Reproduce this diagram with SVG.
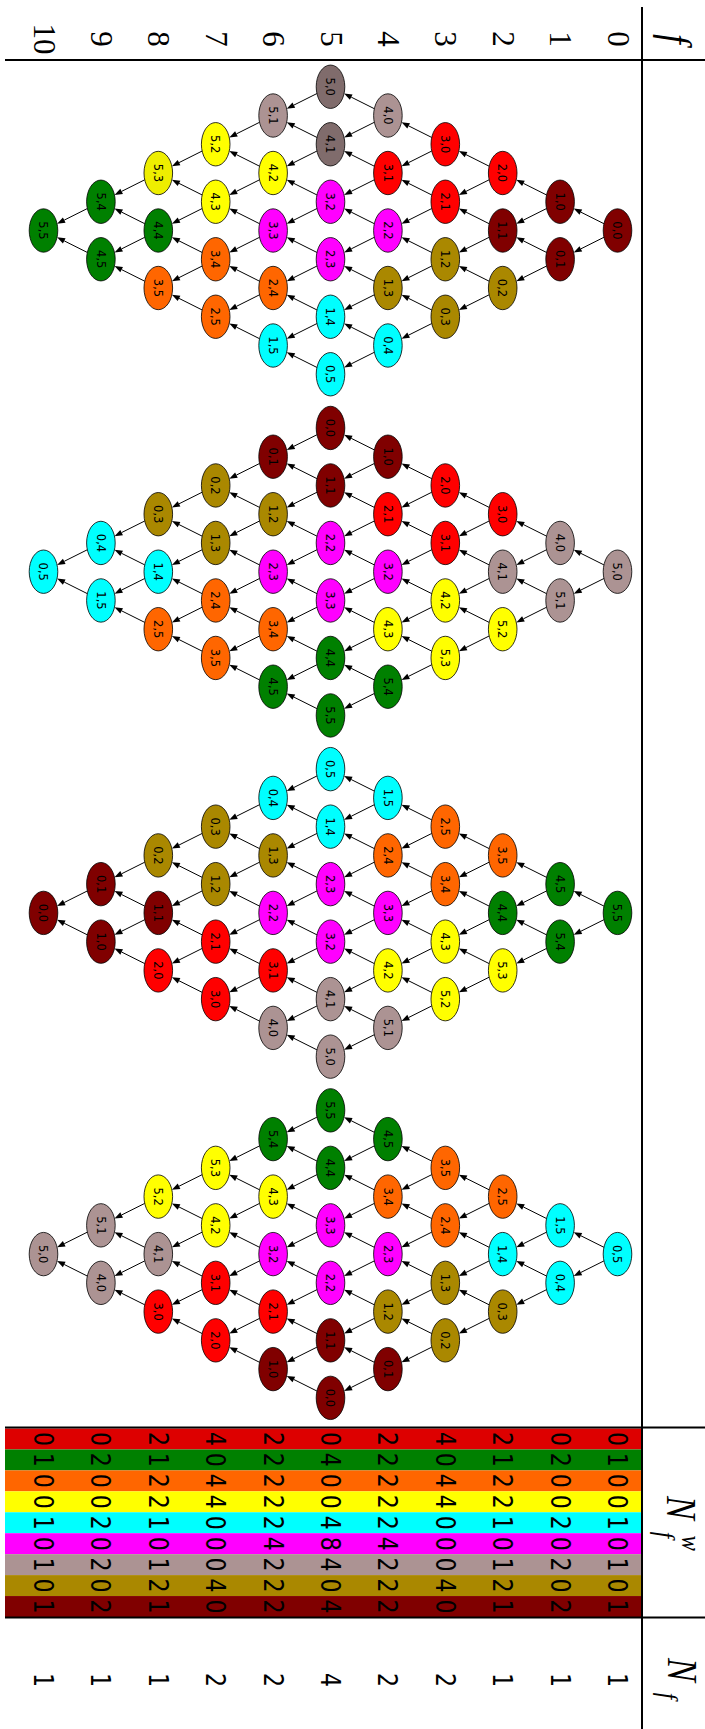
<svg xmlns="http://www.w3.org/2000/svg" width="705" height="1729" viewBox="0 0 705 1729">
<style>
.ln{stroke:#000;stroke-width:2;fill:none}
.ed line{stroke:#000;stroke-width:1;marker-end:url(#ah)}
.nd ellipse{stroke:#000;stroke-width:0.8}
.nd text{font-family:"DejaVu Sans",sans-serif;font-size:11.5px;text-anchor:middle;fill:#000}
.mr{fill:#800000}.rd{fill:#ff0000}.ol{fill:#aa8800}.gy{fill:#ac9393}.gyd{fill:#806c6c}.ye{fill:#ffff00}.yed{fill:#eeee00}.mg{fill:#ff00ff}.cy{fill:#00ffff}.or{fill:#ff6600}.gr{fill:#008000}.rdt{fill:#dd0000}
.td{font-family:"DejaVu Sans",sans-serif;font-size:27px;text-anchor:middle;fill:#000}
.hd{font-family:"Liberation Serif",serif;font-size:31px;text-anchor:middle;fill:#000}
.mi{font-family:"Liberation Serif",serif;font-style:italic;fill:#000}
.big{font-size:42px}
.sub{font-size:27px}
</style>
<defs>
<marker id="ah" markerUnits="userSpaceOnUse" markerWidth="8" markerHeight="6" refX="0" refY="3" orient="auto" overflow="visible"><path d="M0,0 L8,3 L0,6 z" fill="#000"/></marker>
</defs>
<rect width="705" height="1729" fill="#fff"/>
<g id="figure" transform="translate(705,0) rotate(90)">
<g id="table">
<rect class="rdt" x="1428.5" y="63" width="20.95" height="637"/>
<rect class="gr" x="1449.44" y="63" width="20.95" height="637"/>
<rect class="or" x="1470.38" y="63" width="20.95" height="637"/>
<rect class="ye" x="1491.33" y="63" width="20.95" height="637"/>
<rect class="cy" x="1512.27" y="63" width="20.95" height="637"/>
<rect class="mg" x="1533.21" y="63" width="20.95" height="637"/>
<rect class="gy" x="1554.15" y="63" width="20.95" height="637"/>
<rect class="ol" x="1575.09" y="63" width="20.95" height="637"/>
<rect class="mr" x="1596.04" y="63" width="20.96" height="637"/>
<line class="ln" x1="60" y1="0" x2="60" y2="700"/>
<line class="ln" x1="7" y1="63" x2="1729" y2="63"/>
<line class="ln" x1="1427.5" y1="0" x2="1427.5" y2="700"/>
<line class="ln" x1="1617.5" y1="0" x2="1617.5" y2="700"/>
</g>
<g id="headers">
<g class="hd">
<text x="39" y="97.5">0</text><text x="39" y="154.9">1</text><text x="39" y="212.3">2</text><text x="39" y="269.7">3</text><text x="39" y="327.1">4</text><text x="39" y="384.5">5</text><text x="39" y="441.9">6</text><text x="39" y="499.3">7</text><text x="39" y="556.7">8</text><text x="39" y="614.1">9</text><text x="39" y="671.5">10</text>
</g>
<g transform="scale(0.85,1)">
<text class="mi big" x="45.9" y="43.4" text-anchor="middle">f</text>
<text class="mi big" x="1760" y="38.5">N</text>
<text class="mi sub" x="1805.9" y="49" text-anchor="middle">f</text>
<text class="mi sub" x="1815.6" y="23" text-anchor="middle">w</text>
<text class="mi big" x="1950.6" y="36.7">N</text>
<text class="mi sub" x="1995.3" y="46.4" text-anchor="middle">f</text>
</g>
</g>
<g id="table-values" class="td" transform="scale(0.82,1)">
<text x="1754.84" y="97.1">0</text><text x="1754.84" y="154.5">0</text><text x="1754.84" y="211.9">2</text><text x="1754.84" y="269.3">4</text><text x="1754.84" y="326.7">2</text><text x="1754.84" y="384.1">0</text><text x="1754.84" y="441.5">2</text><text x="1754.84" y="498.9">4</text><text x="1754.84" y="556.3">2</text><text x="1754.84" y="613.7">0</text><text x="1754.84" y="671.1">0</text>
<text x="1780.38" y="97.1">1</text><text x="1780.38" y="154.5">2</text><text x="1780.38" y="211.9">1</text><text x="1780.38" y="269.3">0</text><text x="1780.38" y="326.7">2</text><text x="1780.38" y="384.1">4</text><text x="1780.38" y="441.5">2</text><text x="1780.38" y="498.9">0</text><text x="1780.38" y="556.3">1</text><text x="1780.38" y="613.7">2</text><text x="1780.38" y="671.1">1</text>
<text x="1805.93" y="97.1">0</text><text x="1805.93" y="154.5">0</text><text x="1805.93" y="211.9">2</text><text x="1805.93" y="269.3">4</text><text x="1805.93" y="326.7">2</text><text x="1805.93" y="384.1">0</text><text x="1805.93" y="441.5">2</text><text x="1805.93" y="498.9">4</text><text x="1805.93" y="556.3">2</text><text x="1805.93" y="613.7">0</text><text x="1805.93" y="671.1">0</text>
<text x="1831.46" y="97.1">0</text><text x="1831.46" y="154.5">0</text><text x="1831.46" y="211.9">2</text><text x="1831.46" y="269.3">4</text><text x="1831.46" y="326.7">2</text><text x="1831.46" y="384.1">0</text><text x="1831.46" y="441.5">2</text><text x="1831.46" y="498.9">4</text><text x="1831.46" y="556.3">2</text><text x="1831.46" y="613.7">0</text><text x="1831.46" y="671.1">0</text>
<text x="1857" y="97.1">1</text><text x="1857" y="154.5">2</text><text x="1857" y="211.9">1</text><text x="1857" y="269.3">0</text><text x="1857" y="326.7">2</text><text x="1857" y="384.1">4</text><text x="1857" y="441.5">2</text><text x="1857" y="498.9">0</text><text x="1857" y="556.3">1</text><text x="1857" y="613.7">2</text><text x="1857" y="671.1">1</text>
<text x="1882.54" y="97.1">0</text><text x="1882.54" y="154.5">0</text><text x="1882.54" y="211.9">0</text><text x="1882.54" y="269.3">0</text><text x="1882.54" y="326.7">4</text><text x="1882.54" y="384.1">8</text><text x="1882.54" y="441.5">4</text><text x="1882.54" y="498.9">0</text><text x="1882.54" y="556.3">0</text><text x="1882.54" y="613.7">0</text><text x="1882.54" y="671.1">0</text>
<text x="1908.07" y="97.1">1</text><text x="1908.07" y="154.5">2</text><text x="1908.07" y="211.9">1</text><text x="1908.07" y="269.3">0</text><text x="1908.07" y="326.7">2</text><text x="1908.07" y="384.1">4</text><text x="1908.07" y="441.5">2</text><text x="1908.07" y="498.9">0</text><text x="1908.07" y="556.3">1</text><text x="1908.07" y="613.7">2</text><text x="1908.07" y="671.1">1</text>
<text x="1933.62" y="97.1">0</text><text x="1933.62" y="154.5">0</text><text x="1933.62" y="211.9">2</text><text x="1933.62" y="269.3">4</text><text x="1933.62" y="326.7">2</text><text x="1933.62" y="384.1">0</text><text x="1933.62" y="441.5">2</text><text x="1933.62" y="498.9">4</text><text x="1933.62" y="556.3">2</text><text x="1933.62" y="613.7">0</text><text x="1933.62" y="671.1">0</text>
<text x="1959.16" y="97.1">1</text><text x="1959.16" y="154.5">2</text><text x="1959.16" y="211.9">1</text><text x="1959.16" y="269.3">0</text><text x="1959.16" y="326.7">2</text><text x="1959.16" y="384.1">4</text><text x="1959.16" y="441.5">2</text><text x="1959.16" y="498.9">0</text><text x="1959.16" y="556.3">1</text><text x="1959.16" y="613.7">2</text><text x="1959.16" y="671.1">1</text>
<text x="2048.78" y="97.1">1</text><text x="2048.78" y="154.5">1</text><text x="2048.78" y="211.9">1</text><text x="2048.78" y="269.3">2</text><text x="2048.78" y="326.7">2</text><text x="2048.78" y="384.1">4</text><text x="2048.78" y="441.5">2</text><text x="2048.78" y="498.9">2</text><text x="2048.78" y="556.3">1</text><text x="2048.78" y="613.7">1</text><text x="2048.78" y="671.1">1</text>
</g>
<g id="connectors" class="ed">
<g transform="translate(230.5,0)">
<line x1="6.81" y1="101.09" x2="18.36" y2="124.16"/><line x1="-6.81" y1="101.09" x2="-18.36" y2="124.16"/>
<line x1="-21.94" y1="158.49" x2="-10.39" y2="181.56"/><line x1="-35.56" y1="158.49" x2="-47.11" y2="181.56"/><line x1="35.56" y1="158.49" x2="47.11" y2="181.56"/><line x1="21.94" y1="158.49" x2="10.39" y2="181.56"/>
<line x1="-50.69" y1="215.89" x2="-39.14" y2="238.96"/><line x1="-64.31" y1="215.89" x2="-75.86" y2="238.96"/><line x1="6.81" y1="215.89" x2="18.36" y2="238.96"/><line x1="-6.81" y1="215.89" x2="-18.36" y2="238.96"/><line x1="64.31" y1="215.89" x2="75.86" y2="238.96"/><line x1="50.69" y1="215.89" x2="39.14" y2="238.96"/>
<line x1="-79.44" y1="273.29" x2="-67.89" y2="296.36"/><line x1="-93.06" y1="273.29" x2="-104.61" y2="296.36"/><line x1="-21.94" y1="273.29" x2="-10.39" y2="296.36"/><line x1="-35.56" y1="273.29" x2="-47.11" y2="296.36"/><line x1="35.56" y1="273.29" x2="47.11" y2="296.36"/><line x1="21.94" y1="273.29" x2="10.39" y2="296.36"/><line x1="93.06" y1="273.29" x2="104.61" y2="296.36"/><line x1="79.44" y1="273.29" x2="67.89" y2="296.36"/>
<line x1="-108.19" y1="330.69" x2="-96.64" y2="353.76"/><line x1="-121.81" y1="330.69" x2="-133.36" y2="353.76"/><line x1="-50.69" y1="330.69" x2="-39.14" y2="353.76"/><line x1="-64.31" y1="330.69" x2="-75.86" y2="353.76"/><line x1="6.81" y1="330.69" x2="18.36" y2="353.76"/><line x1="-6.81" y1="330.69" x2="-18.36" y2="353.76"/><line x1="64.31" y1="330.69" x2="75.86" y2="353.76"/><line x1="50.69" y1="330.69" x2="39.14" y2="353.76"/><line x1="121.81" y1="330.69" x2="133.36" y2="353.76"/><line x1="108.19" y1="330.69" x2="96.64" y2="353.76"/>
<line x1="-136.94" y1="388.09" x2="-125.39" y2="411.16"/><line x1="-79.44" y1="388.09" x2="-67.89" y2="411.16"/><line x1="-93.06" y1="388.09" x2="-104.61" y2="411.16"/><line x1="-21.94" y1="388.09" x2="-10.39" y2="411.16"/><line x1="-35.56" y1="388.09" x2="-47.11" y2="411.16"/><line x1="35.56" y1="388.09" x2="47.11" y2="411.16"/><line x1="21.94" y1="388.09" x2="10.39" y2="411.16"/><line x1="93.06" y1="388.09" x2="104.61" y2="411.16"/><line x1="79.44" y1="388.09" x2="67.89" y2="411.16"/><line x1="136.94" y1="388.09" x2="125.39" y2="411.16"/>
<line x1="-108.19" y1="445.49" x2="-96.64" y2="468.56"/><line x1="-50.69" y1="445.49" x2="-39.14" y2="468.56"/><line x1="-64.31" y1="445.49" x2="-75.86" y2="468.56"/><line x1="6.81" y1="445.49" x2="18.36" y2="468.56"/><line x1="-6.81" y1="445.49" x2="-18.36" y2="468.56"/><line x1="64.31" y1="445.49" x2="75.86" y2="468.56"/><line x1="50.69" y1="445.49" x2="39.14" y2="468.56"/><line x1="108.19" y1="445.49" x2="96.64" y2="468.56"/>
<line x1="-79.44" y1="502.89" x2="-67.89" y2="525.96"/><line x1="-21.94" y1="502.89" x2="-10.39" y2="525.96"/><line x1="-35.56" y1="502.89" x2="-47.11" y2="525.96"/><line x1="35.56" y1="502.89" x2="47.11" y2="525.96"/><line x1="21.94" y1="502.89" x2="10.39" y2="525.96"/><line x1="79.44" y1="502.89" x2="67.89" y2="525.96"/>
<line x1="-50.69" y1="560.29" x2="-39.14" y2="583.36"/><line x1="6.81" y1="560.29" x2="18.36" y2="583.36"/><line x1="-6.81" y1="560.29" x2="-18.36" y2="583.36"/><line x1="50.69" y1="560.29" x2="39.14" y2="583.36"/>
<line x1="-21.94" y1="617.69" x2="-10.39" y2="640.76"/><line x1="21.94" y1="617.69" x2="10.39" y2="640.76"/>
</g>
<g transform="translate(571.7,0)">
<line x1="6.81" y1="101.09" x2="18.36" y2="124.16"/><line x1="-6.81" y1="101.09" x2="-18.36" y2="124.16"/>
<line x1="-21.94" y1="158.49" x2="-10.39" y2="181.56"/><line x1="-35.56" y1="158.49" x2="-47.11" y2="181.56"/><line x1="35.56" y1="158.49" x2="47.11" y2="181.56"/><line x1="21.94" y1="158.49" x2="10.39" y2="181.56"/>
<line x1="-50.69" y1="215.89" x2="-39.14" y2="238.96"/><line x1="-64.31" y1="215.89" x2="-75.86" y2="238.96"/><line x1="6.81" y1="215.89" x2="18.36" y2="238.96"/><line x1="-6.81" y1="215.89" x2="-18.36" y2="238.96"/><line x1="64.31" y1="215.89" x2="75.86" y2="238.96"/><line x1="50.69" y1="215.89" x2="39.14" y2="238.96"/>
<line x1="-79.44" y1="273.29" x2="-67.89" y2="296.36"/><line x1="-93.06" y1="273.29" x2="-104.61" y2="296.36"/><line x1="-21.94" y1="273.29" x2="-10.39" y2="296.36"/><line x1="-35.56" y1="273.29" x2="-47.11" y2="296.36"/><line x1="35.56" y1="273.29" x2="47.11" y2="296.36"/><line x1="21.94" y1="273.29" x2="10.39" y2="296.36"/><line x1="93.06" y1="273.29" x2="104.61" y2="296.36"/><line x1="79.44" y1="273.29" x2="67.89" y2="296.36"/>
<line x1="-108.19" y1="330.69" x2="-96.64" y2="353.76"/><line x1="-121.81" y1="330.69" x2="-133.36" y2="353.76"/><line x1="-50.69" y1="330.69" x2="-39.14" y2="353.76"/><line x1="-64.31" y1="330.69" x2="-75.86" y2="353.76"/><line x1="6.81" y1="330.69" x2="18.36" y2="353.76"/><line x1="-6.81" y1="330.69" x2="-18.36" y2="353.76"/><line x1="64.31" y1="330.69" x2="75.86" y2="353.76"/><line x1="50.69" y1="330.69" x2="39.14" y2="353.76"/><line x1="121.81" y1="330.69" x2="133.36" y2="353.76"/><line x1="108.19" y1="330.69" x2="96.64" y2="353.76"/>
<line x1="-136.94" y1="388.09" x2="-125.39" y2="411.16"/><line x1="-79.44" y1="388.09" x2="-67.89" y2="411.16"/><line x1="-93.06" y1="388.09" x2="-104.61" y2="411.16"/><line x1="-21.94" y1="388.09" x2="-10.39" y2="411.16"/><line x1="-35.56" y1="388.09" x2="-47.11" y2="411.16"/><line x1="35.56" y1="388.09" x2="47.11" y2="411.16"/><line x1="21.94" y1="388.09" x2="10.39" y2="411.16"/><line x1="93.06" y1="388.09" x2="104.61" y2="411.16"/><line x1="79.44" y1="388.09" x2="67.89" y2="411.16"/><line x1="136.94" y1="388.09" x2="125.39" y2="411.16"/>
<line x1="-108.19" y1="445.49" x2="-96.64" y2="468.56"/><line x1="-50.69" y1="445.49" x2="-39.14" y2="468.56"/><line x1="-64.31" y1="445.49" x2="-75.86" y2="468.56"/><line x1="6.81" y1="445.49" x2="18.36" y2="468.56"/><line x1="-6.81" y1="445.49" x2="-18.36" y2="468.56"/><line x1="64.31" y1="445.49" x2="75.86" y2="468.56"/><line x1="50.69" y1="445.49" x2="39.14" y2="468.56"/><line x1="108.19" y1="445.49" x2="96.64" y2="468.56"/>
<line x1="-79.44" y1="502.89" x2="-67.89" y2="525.96"/><line x1="-21.94" y1="502.89" x2="-10.39" y2="525.96"/><line x1="-35.56" y1="502.89" x2="-47.11" y2="525.96"/><line x1="35.56" y1="502.89" x2="47.11" y2="525.96"/><line x1="21.94" y1="502.89" x2="10.39" y2="525.96"/><line x1="79.44" y1="502.89" x2="67.89" y2="525.96"/>
<line x1="-50.69" y1="560.29" x2="-39.14" y2="583.36"/><line x1="6.81" y1="560.29" x2="18.36" y2="583.36"/><line x1="-6.81" y1="560.29" x2="-18.36" y2="583.36"/><line x1="50.69" y1="560.29" x2="39.14" y2="583.36"/>
<line x1="-21.94" y1="617.69" x2="-10.39" y2="640.76"/><line x1="21.94" y1="617.69" x2="10.39" y2="640.76"/>
</g>
<g transform="translate(912.9,0)">
<line x1="6.81" y1="101.09" x2="18.36" y2="124.16"/><line x1="-6.81" y1="101.09" x2="-18.36" y2="124.16"/>
<line x1="-21.94" y1="158.49" x2="-10.39" y2="181.56"/><line x1="-35.56" y1="158.49" x2="-47.11" y2="181.56"/><line x1="35.56" y1="158.49" x2="47.11" y2="181.56"/><line x1="21.94" y1="158.49" x2="10.39" y2="181.56"/>
<line x1="-50.69" y1="215.89" x2="-39.14" y2="238.96"/><line x1="-64.31" y1="215.89" x2="-75.86" y2="238.96"/><line x1="6.81" y1="215.89" x2="18.36" y2="238.96"/><line x1="-6.81" y1="215.89" x2="-18.36" y2="238.96"/><line x1="64.31" y1="215.89" x2="75.86" y2="238.96"/><line x1="50.69" y1="215.89" x2="39.14" y2="238.96"/>
<line x1="-79.44" y1="273.29" x2="-67.89" y2="296.36"/><line x1="-93.06" y1="273.29" x2="-104.61" y2="296.36"/><line x1="-21.94" y1="273.29" x2="-10.39" y2="296.36"/><line x1="-35.56" y1="273.29" x2="-47.11" y2="296.36"/><line x1="35.56" y1="273.29" x2="47.11" y2="296.36"/><line x1="21.94" y1="273.29" x2="10.39" y2="296.36"/><line x1="93.06" y1="273.29" x2="104.61" y2="296.36"/><line x1="79.44" y1="273.29" x2="67.89" y2="296.36"/>
<line x1="-108.19" y1="330.69" x2="-96.64" y2="353.76"/><line x1="-121.81" y1="330.69" x2="-133.36" y2="353.76"/><line x1="-50.69" y1="330.69" x2="-39.14" y2="353.76"/><line x1="-64.31" y1="330.69" x2="-75.86" y2="353.76"/><line x1="6.81" y1="330.69" x2="18.36" y2="353.76"/><line x1="-6.81" y1="330.69" x2="-18.36" y2="353.76"/><line x1="64.31" y1="330.69" x2="75.86" y2="353.76"/><line x1="50.69" y1="330.69" x2="39.14" y2="353.76"/><line x1="121.81" y1="330.69" x2="133.36" y2="353.76"/><line x1="108.19" y1="330.69" x2="96.64" y2="353.76"/>
<line x1="-136.94" y1="388.09" x2="-125.39" y2="411.16"/><line x1="-79.44" y1="388.09" x2="-67.89" y2="411.16"/><line x1="-93.06" y1="388.09" x2="-104.61" y2="411.16"/><line x1="-21.94" y1="388.09" x2="-10.39" y2="411.16"/><line x1="-35.56" y1="388.09" x2="-47.11" y2="411.16"/><line x1="35.56" y1="388.09" x2="47.11" y2="411.16"/><line x1="21.94" y1="388.09" x2="10.39" y2="411.16"/><line x1="93.06" y1="388.09" x2="104.61" y2="411.16"/><line x1="79.44" y1="388.09" x2="67.89" y2="411.16"/><line x1="136.94" y1="388.09" x2="125.39" y2="411.16"/>
<line x1="-108.19" y1="445.49" x2="-96.64" y2="468.56"/><line x1="-50.69" y1="445.49" x2="-39.14" y2="468.56"/><line x1="-64.31" y1="445.49" x2="-75.86" y2="468.56"/><line x1="6.81" y1="445.49" x2="18.36" y2="468.56"/><line x1="-6.81" y1="445.49" x2="-18.36" y2="468.56"/><line x1="64.31" y1="445.49" x2="75.86" y2="468.56"/><line x1="50.69" y1="445.49" x2="39.14" y2="468.56"/><line x1="108.19" y1="445.49" x2="96.64" y2="468.56"/>
<line x1="-79.44" y1="502.89" x2="-67.89" y2="525.96"/><line x1="-21.94" y1="502.89" x2="-10.39" y2="525.96"/><line x1="-35.56" y1="502.89" x2="-47.11" y2="525.96"/><line x1="35.56" y1="502.89" x2="47.11" y2="525.96"/><line x1="21.94" y1="502.89" x2="10.39" y2="525.96"/><line x1="79.44" y1="502.89" x2="67.89" y2="525.96"/>
<line x1="-50.69" y1="560.29" x2="-39.14" y2="583.36"/><line x1="6.81" y1="560.29" x2="18.36" y2="583.36"/><line x1="-6.81" y1="560.29" x2="-18.36" y2="583.36"/><line x1="50.69" y1="560.29" x2="39.14" y2="583.36"/>
<line x1="-21.94" y1="617.69" x2="-10.39" y2="640.76"/><line x1="21.94" y1="617.69" x2="10.39" y2="640.76"/>
</g>
<g transform="translate(1254.1,0)">
<line x1="6.81" y1="101.09" x2="18.36" y2="124.16"/><line x1="-6.81" y1="101.09" x2="-18.36" y2="124.16"/>
<line x1="-21.94" y1="158.49" x2="-10.39" y2="181.56"/><line x1="-35.56" y1="158.49" x2="-47.11" y2="181.56"/><line x1="35.56" y1="158.49" x2="47.11" y2="181.56"/><line x1="21.94" y1="158.49" x2="10.39" y2="181.56"/>
<line x1="-50.69" y1="215.89" x2="-39.14" y2="238.96"/><line x1="-64.31" y1="215.89" x2="-75.86" y2="238.96"/><line x1="6.81" y1="215.89" x2="18.36" y2="238.96"/><line x1="-6.81" y1="215.89" x2="-18.36" y2="238.96"/><line x1="64.31" y1="215.89" x2="75.86" y2="238.96"/><line x1="50.69" y1="215.89" x2="39.14" y2="238.96"/>
<line x1="-79.44" y1="273.29" x2="-67.89" y2="296.36"/><line x1="-93.06" y1="273.29" x2="-104.61" y2="296.36"/><line x1="-21.94" y1="273.29" x2="-10.39" y2="296.36"/><line x1="-35.56" y1="273.29" x2="-47.11" y2="296.36"/><line x1="35.56" y1="273.29" x2="47.11" y2="296.36"/><line x1="21.94" y1="273.29" x2="10.39" y2="296.36"/><line x1="93.06" y1="273.29" x2="104.61" y2="296.36"/><line x1="79.44" y1="273.29" x2="67.89" y2="296.36"/>
<line x1="-108.19" y1="330.69" x2="-96.64" y2="353.76"/><line x1="-121.81" y1="330.69" x2="-133.36" y2="353.76"/><line x1="-50.69" y1="330.69" x2="-39.14" y2="353.76"/><line x1="-64.31" y1="330.69" x2="-75.86" y2="353.76"/><line x1="6.81" y1="330.69" x2="18.36" y2="353.76"/><line x1="-6.81" y1="330.69" x2="-18.36" y2="353.76"/><line x1="64.31" y1="330.69" x2="75.86" y2="353.76"/><line x1="50.69" y1="330.69" x2="39.14" y2="353.76"/><line x1="121.81" y1="330.69" x2="133.36" y2="353.76"/><line x1="108.19" y1="330.69" x2="96.64" y2="353.76"/>
<line x1="-136.94" y1="388.09" x2="-125.39" y2="411.16"/><line x1="-79.44" y1="388.09" x2="-67.89" y2="411.16"/><line x1="-93.06" y1="388.09" x2="-104.61" y2="411.16"/><line x1="-21.94" y1="388.09" x2="-10.39" y2="411.16"/><line x1="-35.56" y1="388.09" x2="-47.11" y2="411.16"/><line x1="35.56" y1="388.09" x2="47.11" y2="411.16"/><line x1="21.94" y1="388.09" x2="10.39" y2="411.16"/><line x1="93.06" y1="388.09" x2="104.61" y2="411.16"/><line x1="79.44" y1="388.09" x2="67.89" y2="411.16"/><line x1="136.94" y1="388.09" x2="125.39" y2="411.16"/>
<line x1="-108.19" y1="445.49" x2="-96.64" y2="468.56"/><line x1="-50.69" y1="445.49" x2="-39.14" y2="468.56"/><line x1="-64.31" y1="445.49" x2="-75.86" y2="468.56"/><line x1="6.81" y1="445.49" x2="18.36" y2="468.56"/><line x1="-6.81" y1="445.49" x2="-18.36" y2="468.56"/><line x1="64.31" y1="445.49" x2="75.86" y2="468.56"/><line x1="50.69" y1="445.49" x2="39.14" y2="468.56"/><line x1="108.19" y1="445.49" x2="96.64" y2="468.56"/>
<line x1="-79.44" y1="502.89" x2="-67.89" y2="525.96"/><line x1="-21.94" y1="502.89" x2="-10.39" y2="525.96"/><line x1="-35.56" y1="502.89" x2="-47.11" y2="525.96"/><line x1="35.56" y1="502.89" x2="47.11" y2="525.96"/><line x1="21.94" y1="502.89" x2="10.39" y2="525.96"/><line x1="79.44" y1="502.89" x2="67.89" y2="525.96"/>
<line x1="-50.69" y1="560.29" x2="-39.14" y2="583.36"/><line x1="6.81" y1="560.29" x2="18.36" y2="583.36"/><line x1="-6.81" y1="560.29" x2="-18.36" y2="583.36"/><line x1="50.69" y1="560.29" x2="39.14" y2="583.36"/>
<line x1="-21.94" y1="617.69" x2="-10.39" y2="640.76"/><line x1="21.94" y1="617.69" x2="10.39" y2="640.76"/>
</g>
</g>
<g id="diamond1" class="nd" transform="translate(230.5,0)">
<g id="d1-0-0" transform="translate(0,87.5)"><ellipse class="mr" rx="21.7" ry="14.3"/><text y="4.2">0,0</text></g>
<g id="d1-0-1" transform="translate(28.75,144.9)"><ellipse class="mr" rx="21.7" ry="14.3"/><text y="4.2">0,1</text></g>
<g id="d1-0-2" transform="translate(57.5,202.3)"><ellipse class="ol" rx="21.7" ry="14.3"/><text y="4.2">0,2</text></g>
<g id="d1-0-3" transform="translate(86.25,259.7)"><ellipse class="ol" rx="21.7" ry="14.3"/><text y="4.2">0,3</text></g>
<g id="d1-0-4" transform="translate(115,317.1)"><ellipse class="cy" rx="21.7" ry="14.3"/><text y="4.2">0,4</text></g>
<g id="d1-0-5" transform="translate(143.75,374.5)"><ellipse class="cy" rx="21.7" ry="14.3"/><text y="4.2">0,5</text></g>
<g id="d1-1-0" transform="translate(-28.75,144.9)"><ellipse class="mr" rx="21.7" ry="14.3"/><text y="4.2">1,0</text></g>
<g id="d1-1-1" transform="translate(0,202.3)"><ellipse class="mr" rx="21.7" ry="14.3"/><text y="4.2">1,1</text></g>
<g id="d1-1-2" transform="translate(28.75,259.7)"><ellipse class="ol" rx="21.7" ry="14.3"/><text y="4.2">1,2</text></g>
<g id="d1-1-3" transform="translate(57.5,317.1)"><ellipse class="ol" rx="21.7" ry="14.3"/><text y="4.2">1,3</text></g>
<g id="d1-1-4" transform="translate(86.25,374.5)"><ellipse class="cy" rx="21.7" ry="14.3"/><text y="4.2">1,4</text></g>
<g id="d1-1-5" transform="translate(115,431.9)"><ellipse class="cy" rx="21.7" ry="14.3"/><text y="4.2">1,5</text></g>
<g id="d1-2-0" transform="translate(-57.5,202.3)"><ellipse class="rd" rx="21.7" ry="14.3"/><text y="4.2">2,0</text></g>
<g id="d1-2-1" transform="translate(-28.75,259.7)"><ellipse class="rd" rx="21.7" ry="14.3"/><text y="4.2">2,1</text></g>
<g id="d1-2-2" transform="translate(0,317.1)"><ellipse class="mg" rx="21.7" ry="14.3"/><text y="4.2">2,2</text></g>
<g id="d1-2-3" transform="translate(28.75,374.5)"><ellipse class="mg" rx="21.7" ry="14.3"/><text y="4.2">2,3</text></g>
<g id="d1-2-4" transform="translate(57.5,431.9)"><ellipse class="or" rx="21.7" ry="14.3"/><text y="4.2">2,4</text></g>
<g id="d1-2-5" transform="translate(86.25,489.3)"><ellipse class="or" rx="21.7" ry="14.3"/><text y="4.2">2,5</text></g>
<g id="d1-3-0" transform="translate(-86.25,259.7)"><ellipse class="rd" rx="21.7" ry="14.3"/><text y="4.2">3,0</text></g>
<g id="d1-3-1" transform="translate(-57.5,317.1)"><ellipse class="rd" rx="21.7" ry="14.3"/><text y="4.2">3,1</text></g>
<g id="d1-3-2" transform="translate(-28.75,374.5)"><ellipse class="mg" rx="21.7" ry="14.3"/><text y="4.2">3,2</text></g>
<g id="d1-3-3" transform="translate(0,431.9)"><ellipse class="mg" rx="21.7" ry="14.3"/><text y="4.2">3,3</text></g>
<g id="d1-3-4" transform="translate(28.75,489.3)"><ellipse class="or" rx="21.7" ry="14.3"/><text y="4.2">3,4</text></g>
<g id="d1-3-5" transform="translate(57.5,546.7)"><ellipse class="or" rx="21.7" ry="14.3"/><text y="4.2">3,5</text></g>
<g id="d1-4-0" transform="translate(-115,317.1)"><ellipse class="gy" rx="21.7" ry="14.3"/><text y="4.2">4,0</text></g>
<g id="d1-4-1" transform="translate(-86.25,374.5)"><ellipse class="gyd" rx="21.7" ry="14.3"/><text y="4.2">4,1</text></g>
<g id="d1-4-2" transform="translate(-57.5,431.9)"><ellipse class="ye" rx="21.7" ry="14.3"/><text y="4.2">4,2</text></g>
<g id="d1-4-3" transform="translate(-28.75,489.3)"><ellipse class="ye" rx="21.7" ry="14.3"/><text y="4.2">4,3</text></g>
<g id="d1-4-4" transform="translate(0,546.7)"><ellipse class="gr" rx="21.7" ry="14.3"/><text y="4.2">4,4</text></g>
<g id="d1-4-5" transform="translate(28.75,604.1)"><ellipse class="gr" rx="21.7" ry="14.3"/><text y="4.2">4,5</text></g>
<g id="d1-5-0" transform="translate(-143.75,374.5)"><ellipse class="gyd" rx="21.7" ry="14.3"/><text y="4.2">5,0</text></g>
<g id="d1-5-1" transform="translate(-115,431.9)"><ellipse class="gy" rx="21.7" ry="14.3"/><text y="4.2">5,1</text></g>
<g id="d1-5-2" transform="translate(-86.25,489.3)"><ellipse class="ye" rx="21.7" ry="14.3"/><text y="4.2">5,2</text></g>
<g id="d1-5-3" transform="translate(-57.5,546.7)"><ellipse class="yed" rx="21.7" ry="14.3"/><text y="4.2">5,3</text></g>
<g id="d1-5-4" transform="translate(-28.75,604.1)"><ellipse class="gr" rx="21.7" ry="14.3"/><text y="4.2">5,4</text></g>
<g id="d1-5-5" transform="translate(0,661.5)"><ellipse class="gr" rx="21.7" ry="14.3"/><text y="4.2">5,5</text></g>
</g>
<g id="diamond2" class="nd" transform="translate(571.7,0)">
<g id="d2-0-0" transform="translate(-143.75,374.5)"><ellipse class="mr" rx="21.7" ry="14.3"/><text y="4.2">0,0</text></g>
<g id="d2-0-1" transform="translate(-115,431.9)"><ellipse class="mr" rx="21.7" ry="14.3"/><text y="4.2">0,1</text></g>
<g id="d2-0-2" transform="translate(-86.25,489.3)"><ellipse class="ol" rx="21.7" ry="14.3"/><text y="4.2">0,2</text></g>
<g id="d2-0-3" transform="translate(-57.5,546.7)"><ellipse class="ol" rx="21.7" ry="14.3"/><text y="4.2">0,3</text></g>
<g id="d2-0-4" transform="translate(-28.75,604.1)"><ellipse class="cy" rx="21.7" ry="14.3"/><text y="4.2">0,4</text></g>
<g id="d2-0-5" transform="translate(0,661.5)"><ellipse class="cy" rx="21.7" ry="14.3"/><text y="4.2">0,5</text></g>
<g id="d2-1-0" transform="translate(-115,317.1)"><ellipse class="mr" rx="21.7" ry="14.3"/><text y="4.2">1,0</text></g>
<g id="d2-1-1" transform="translate(-86.25,374.5)"><ellipse class="mr" rx="21.7" ry="14.3"/><text y="4.2">1,1</text></g>
<g id="d2-1-2" transform="translate(-57.5,431.9)"><ellipse class="ol" rx="21.7" ry="14.3"/><text y="4.2">1,2</text></g>
<g id="d2-1-3" transform="translate(-28.75,489.3)"><ellipse class="ol" rx="21.7" ry="14.3"/><text y="4.2">1,3</text></g>
<g id="d2-1-4" transform="translate(0,546.7)"><ellipse class="cy" rx="21.7" ry="14.3"/><text y="4.2">1,4</text></g>
<g id="d2-1-5" transform="translate(28.75,604.1)"><ellipse class="cy" rx="21.7" ry="14.3"/><text y="4.2">1,5</text></g>
<g id="d2-2-0" transform="translate(-86.25,259.7)"><ellipse class="rd" rx="21.7" ry="14.3"/><text y="4.2">2,0</text></g>
<g id="d2-2-1" transform="translate(-57.5,317.1)"><ellipse class="rd" rx="21.7" ry="14.3"/><text y="4.2">2,1</text></g>
<g id="d2-2-2" transform="translate(-28.75,374.5)"><ellipse class="mg" rx="21.7" ry="14.3"/><text y="4.2">2,2</text></g>
<g id="d2-2-3" transform="translate(0,431.9)"><ellipse class="mg" rx="21.7" ry="14.3"/><text y="4.2">2,3</text></g>
<g id="d2-2-4" transform="translate(28.75,489.3)"><ellipse class="or" rx="21.7" ry="14.3"/><text y="4.2">2,4</text></g>
<g id="d2-2-5" transform="translate(57.5,546.7)"><ellipse class="or" rx="21.7" ry="14.3"/><text y="4.2">2,5</text></g>
<g id="d2-3-0" transform="translate(-57.5,202.3)"><ellipse class="rd" rx="21.7" ry="14.3"/><text y="4.2">3,0</text></g>
<g id="d2-3-1" transform="translate(-28.75,259.7)"><ellipse class="rd" rx="21.7" ry="14.3"/><text y="4.2">3,1</text></g>
<g id="d2-3-2" transform="translate(0,317.1)"><ellipse class="mg" rx="21.7" ry="14.3"/><text y="4.2">3,2</text></g>
<g id="d2-3-3" transform="translate(28.75,374.5)"><ellipse class="mg" rx="21.7" ry="14.3"/><text y="4.2">3,3</text></g>
<g id="d2-3-4" transform="translate(57.5,431.9)"><ellipse class="or" rx="21.7" ry="14.3"/><text y="4.2">3,4</text></g>
<g id="d2-3-5" transform="translate(86.25,489.3)"><ellipse class="or" rx="21.7" ry="14.3"/><text y="4.2">3,5</text></g>
<g id="d2-4-0" transform="translate(-28.75,144.9)"><ellipse class="gy" rx="21.7" ry="14.3"/><text y="4.2">4,0</text></g>
<g id="d2-4-1" transform="translate(0,202.3)"><ellipse class="gy" rx="21.7" ry="14.3"/><text y="4.2">4,1</text></g>
<g id="d2-4-2" transform="translate(28.75,259.7)"><ellipse class="ye" rx="21.7" ry="14.3"/><text y="4.2">4,2</text></g>
<g id="d2-4-3" transform="translate(57.5,317.1)"><ellipse class="ye" rx="21.7" ry="14.3"/><text y="4.2">4,3</text></g>
<g id="d2-4-4" transform="translate(86.25,374.5)"><ellipse class="gr" rx="21.7" ry="14.3"/><text y="4.2">4,4</text></g>
<g id="d2-4-5" transform="translate(115,431.9)"><ellipse class="gr" rx="21.7" ry="14.3"/><text y="4.2">4,5</text></g>
<g id="d2-5-0" transform="translate(0,87.5)"><ellipse class="gy" rx="21.7" ry="14.3"/><text y="4.2">5,0</text></g>
<g id="d2-5-1" transform="translate(28.75,144.9)"><ellipse class="gy" rx="21.7" ry="14.3"/><text y="4.2">5,1</text></g>
<g id="d2-5-2" transform="translate(57.5,202.3)"><ellipse class="ye" rx="21.7" ry="14.3"/><text y="4.2">5,2</text></g>
<g id="d2-5-3" transform="translate(86.25,259.7)"><ellipse class="ye" rx="21.7" ry="14.3"/><text y="4.2">5,3</text></g>
<g id="d2-5-4" transform="translate(115,317.1)"><ellipse class="gr" rx="21.7" ry="14.3"/><text y="4.2">5,4</text></g>
<g id="d2-5-5" transform="translate(143.75,374.5)"><ellipse class="gr" rx="21.7" ry="14.3"/><text y="4.2">5,5</text></g>
</g>
<g id="diamond3" class="nd" transform="translate(912.9,0)">
<g id="d3-0-0" transform="translate(0,661.5)"><ellipse class="mr" rx="21.7" ry="14.3"/><text y="4.2">0,0</text></g>
<g id="d3-0-1" transform="translate(-28.75,604.1)"><ellipse class="mr" rx="21.7" ry="14.3"/><text y="4.2">0,1</text></g>
<g id="d3-0-2" transform="translate(-57.5,546.7)"><ellipse class="ol" rx="21.7" ry="14.3"/><text y="4.2">0,2</text></g>
<g id="d3-0-3" transform="translate(-86.25,489.3)"><ellipse class="ol" rx="21.7" ry="14.3"/><text y="4.2">0,3</text></g>
<g id="d3-0-4" transform="translate(-115,431.9)"><ellipse class="cy" rx="21.7" ry="14.3"/><text y="4.2">0,4</text></g>
<g id="d3-0-5" transform="translate(-143.75,374.5)"><ellipse class="cy" rx="21.7" ry="14.3"/><text y="4.2">0,5</text></g>
<g id="d3-1-0" transform="translate(28.75,604.1)"><ellipse class="mr" rx="21.7" ry="14.3"/><text y="4.2">1,0</text></g>
<g id="d3-1-1" transform="translate(0,546.7)"><ellipse class="mr" rx="21.7" ry="14.3"/><text y="4.2">1,1</text></g>
<g id="d3-1-2" transform="translate(-28.75,489.3)"><ellipse class="ol" rx="21.7" ry="14.3"/><text y="4.2">1,2</text></g>
<g id="d3-1-3" transform="translate(-57.5,431.9)"><ellipse class="ol" rx="21.7" ry="14.3"/><text y="4.2">1,3</text></g>
<g id="d3-1-4" transform="translate(-86.25,374.5)"><ellipse class="cy" rx="21.7" ry="14.3"/><text y="4.2">1,4</text></g>
<g id="d3-1-5" transform="translate(-115,317.1)"><ellipse class="cy" rx="21.7" ry="14.3"/><text y="4.2">1,5</text></g>
<g id="d3-2-0" transform="translate(57.5,546.7)"><ellipse class="rd" rx="21.7" ry="14.3"/><text y="4.2">2,0</text></g>
<g id="d3-2-1" transform="translate(28.75,489.3)"><ellipse class="rd" rx="21.7" ry="14.3"/><text y="4.2">2,1</text></g>
<g id="d3-2-2" transform="translate(0,431.9)"><ellipse class="mg" rx="21.7" ry="14.3"/><text y="4.2">2,2</text></g>
<g id="d3-2-3" transform="translate(-28.75,374.5)"><ellipse class="mg" rx="21.7" ry="14.3"/><text y="4.2">2,3</text></g>
<g id="d3-2-4" transform="translate(-57.5,317.1)"><ellipse class="or" rx="21.7" ry="14.3"/><text y="4.2">2,4</text></g>
<g id="d3-2-5" transform="translate(-86.25,259.7)"><ellipse class="or" rx="21.7" ry="14.3"/><text y="4.2">2,5</text></g>
<g id="d3-3-0" transform="translate(86.25,489.3)"><ellipse class="rd" rx="21.7" ry="14.3"/><text y="4.2">3,0</text></g>
<g id="d3-3-1" transform="translate(57.5,431.9)"><ellipse class="rd" rx="21.7" ry="14.3"/><text y="4.2">3,1</text></g>
<g id="d3-3-2" transform="translate(28.75,374.5)"><ellipse class="mg" rx="21.7" ry="14.3"/><text y="4.2">3,2</text></g>
<g id="d3-3-3" transform="translate(0,317.1)"><ellipse class="mg" rx="21.7" ry="14.3"/><text y="4.2">3,3</text></g>
<g id="d3-3-4" transform="translate(-28.75,259.7)"><ellipse class="or" rx="21.7" ry="14.3"/><text y="4.2">3,4</text></g>
<g id="d3-3-5" transform="translate(-57.5,202.3)"><ellipse class="or" rx="21.7" ry="14.3"/><text y="4.2">3,5</text></g>
<g id="d3-4-0" transform="translate(115,431.9)"><ellipse class="gy" rx="21.7" ry="14.3"/><text y="4.2">4,0</text></g>
<g id="d3-4-1" transform="translate(86.25,374.5)"><ellipse class="gy" rx="21.7" ry="14.3"/><text y="4.2">4,1</text></g>
<g id="d3-4-2" transform="translate(57.5,317.1)"><ellipse class="ye" rx="21.7" ry="14.3"/><text y="4.2">4,2</text></g>
<g id="d3-4-3" transform="translate(28.75,259.7)"><ellipse class="ye" rx="21.7" ry="14.3"/><text y="4.2">4,3</text></g>
<g id="d3-4-4" transform="translate(0,202.3)"><ellipse class="gr" rx="21.7" ry="14.3"/><text y="4.2">4,4</text></g>
<g id="d3-4-5" transform="translate(-28.75,144.9)"><ellipse class="gr" rx="21.7" ry="14.3"/><text y="4.2">4,5</text></g>
<g id="d3-5-0" transform="translate(143.75,374.5)"><ellipse class="gy" rx="21.7" ry="14.3"/><text y="4.2">5,0</text></g>
<g id="d3-5-1" transform="translate(115,317.1)"><ellipse class="gy" rx="21.7" ry="14.3"/><text y="4.2">5,1</text></g>
<g id="d3-5-2" transform="translate(86.25,259.7)"><ellipse class="ye" rx="21.7" ry="14.3"/><text y="4.2">5,2</text></g>
<g id="d3-5-3" transform="translate(57.5,202.3)"><ellipse class="ye" rx="21.7" ry="14.3"/><text y="4.2">5,3</text></g>
<g id="d3-5-4" transform="translate(28.75,144.9)"><ellipse class="gr" rx="21.7" ry="14.3"/><text y="4.2">5,4</text></g>
<g id="d3-5-5" transform="translate(0,87.5)"><ellipse class="gr" rx="21.7" ry="14.3"/><text y="4.2">5,5</text></g>
</g>
<g id="diamond4" class="nd" transform="translate(1254.1,0)">
<g id="d4-0-0" transform="translate(143.75,374.5)"><ellipse class="mr" rx="21.7" ry="14.3"/><text y="4.2">0,0</text></g>
<g id="d4-0-1" transform="translate(115,317.1)"><ellipse class="mr" rx="21.7" ry="14.3"/><text y="4.2">0,1</text></g>
<g id="d4-0-2" transform="translate(86.25,259.7)"><ellipse class="ol" rx="21.7" ry="14.3"/><text y="4.2">0,2</text></g>
<g id="d4-0-3" transform="translate(57.5,202.3)"><ellipse class="ol" rx="21.7" ry="14.3"/><text y="4.2">0,3</text></g>
<g id="d4-0-4" transform="translate(28.75,144.9)"><ellipse class="cy" rx="21.7" ry="14.3"/><text y="4.2">0,4</text></g>
<g id="d4-0-5" transform="translate(0,87.5)"><ellipse class="cy" rx="21.7" ry="14.3"/><text y="4.2">0,5</text></g>
<g id="d4-1-0" transform="translate(115,431.9)"><ellipse class="mr" rx="21.7" ry="14.3"/><text y="4.2">1,0</text></g>
<g id="d4-1-1" transform="translate(86.25,374.5)"><ellipse class="mr" rx="21.7" ry="14.3"/><text y="4.2">1,1</text></g>
<g id="d4-1-2" transform="translate(57.5,317.1)"><ellipse class="ol" rx="21.7" ry="14.3"/><text y="4.2">1,2</text></g>
<g id="d4-1-3" transform="translate(28.75,259.7)"><ellipse class="ol" rx="21.7" ry="14.3"/><text y="4.2">1,3</text></g>
<g id="d4-1-4" transform="translate(0,202.3)"><ellipse class="cy" rx="21.7" ry="14.3"/><text y="4.2">1,4</text></g>
<g id="d4-1-5" transform="translate(-28.75,144.9)"><ellipse class="cy" rx="21.7" ry="14.3"/><text y="4.2">1,5</text></g>
<g id="d4-2-0" transform="translate(86.25,489.3)"><ellipse class="rd" rx="21.7" ry="14.3"/><text y="4.2">2,0</text></g>
<g id="d4-2-1" transform="translate(57.5,431.9)"><ellipse class="rd" rx="21.7" ry="14.3"/><text y="4.2">2,1</text></g>
<g id="d4-2-2" transform="translate(28.75,374.5)"><ellipse class="mg" rx="21.7" ry="14.3"/><text y="4.2">2,2</text></g>
<g id="d4-2-3" transform="translate(0,317.1)"><ellipse class="mg" rx="21.7" ry="14.3"/><text y="4.2">2,3</text></g>
<g id="d4-2-4" transform="translate(-28.75,259.7)"><ellipse class="or" rx="21.7" ry="14.3"/><text y="4.2">2,4</text></g>
<g id="d4-2-5" transform="translate(-57.5,202.3)"><ellipse class="or" rx="21.7" ry="14.3"/><text y="4.2">2,5</text></g>
<g id="d4-3-0" transform="translate(57.5,546.7)"><ellipse class="rd" rx="21.7" ry="14.3"/><text y="4.2">3,0</text></g>
<g id="d4-3-1" transform="translate(28.75,489.3)"><ellipse class="rd" rx="21.7" ry="14.3"/><text y="4.2">3,1</text></g>
<g id="d4-3-2" transform="translate(0,431.9)"><ellipse class="mg" rx="21.7" ry="14.3"/><text y="4.2">3,2</text></g>
<g id="d4-3-3" transform="translate(-28.75,374.5)"><ellipse class="mg" rx="21.7" ry="14.3"/><text y="4.2">3,3</text></g>
<g id="d4-3-4" transform="translate(-57.5,317.1)"><ellipse class="or" rx="21.7" ry="14.3"/><text y="4.2">3,4</text></g>
<g id="d4-3-5" transform="translate(-86.25,259.7)"><ellipse class="or" rx="21.7" ry="14.3"/><text y="4.2">3,5</text></g>
<g id="d4-4-0" transform="translate(28.75,604.1)"><ellipse class="gy" rx="21.7" ry="14.3"/><text y="4.2">4,0</text></g>
<g id="d4-4-1" transform="translate(0,546.7)"><ellipse class="gy" rx="21.7" ry="14.3"/><text y="4.2">4,1</text></g>
<g id="d4-4-2" transform="translate(-28.75,489.3)"><ellipse class="ye" rx="21.7" ry="14.3"/><text y="4.2">4,2</text></g>
<g id="d4-4-3" transform="translate(-57.5,431.9)"><ellipse class="ye" rx="21.7" ry="14.3"/><text y="4.2">4,3</text></g>
<g id="d4-4-4" transform="translate(-86.25,374.5)"><ellipse class="gr" rx="21.7" ry="14.3"/><text y="4.2">4,4</text></g>
<g id="d4-4-5" transform="translate(-115,317.1)"><ellipse class="gr" rx="21.7" ry="14.3"/><text y="4.2">4,5</text></g>
<g id="d4-5-0" transform="translate(0,661.5)"><ellipse class="gy" rx="21.7" ry="14.3"/><text y="4.2">5,0</text></g>
<g id="d4-5-1" transform="translate(-28.75,604.1)"><ellipse class="gy" rx="21.7" ry="14.3"/><text y="4.2">5,1</text></g>
<g id="d4-5-2" transform="translate(-57.5,546.7)"><ellipse class="ye" rx="21.7" ry="14.3"/><text y="4.2">5,2</text></g>
<g id="d4-5-3" transform="translate(-86.25,489.3)"><ellipse class="ye" rx="21.7" ry="14.3"/><text y="4.2">5,3</text></g>
<g id="d4-5-4" transform="translate(-115,431.9)"><ellipse class="gr" rx="21.7" ry="14.3"/><text y="4.2">5,4</text></g>
<g id="d4-5-5" transform="translate(-143.75,374.5)"><ellipse class="gr" rx="21.7" ry="14.3"/><text y="4.2">5,5</text></g>
</g>
</g>
</svg>
